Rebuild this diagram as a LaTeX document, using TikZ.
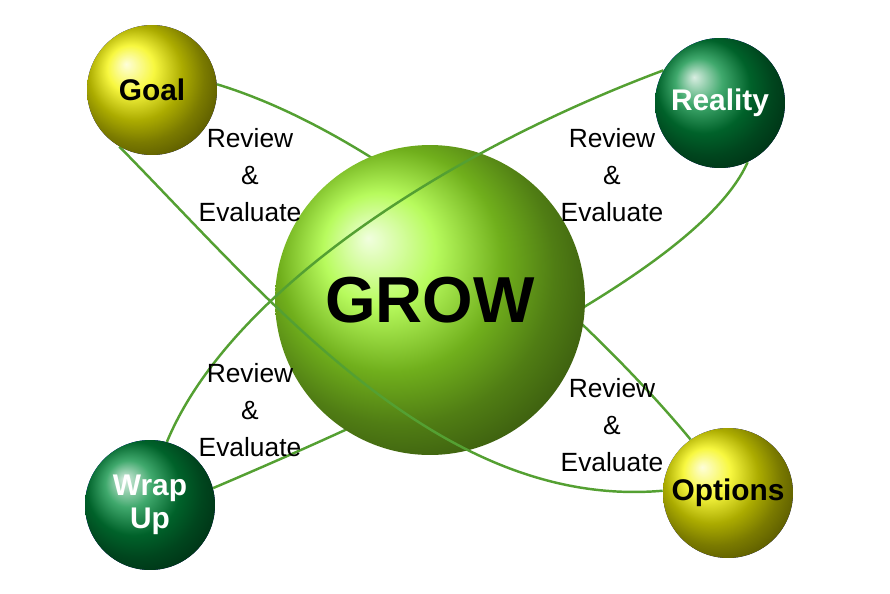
\documentclass[tikz,border=0pt]{standalone}
\usepackage{fontspec}
\setmainfont{Liberation Sans}
\tikzset{every picture/.style={font issue=\small},
         font issue/.style={execute at begin picture={#1\selectfont}}
        }
\tikzstyle{ball}=[circle,shading=ball,minimum size=#1,inner sep=0,align=center,font=\bfseries\fontsize{17}{19}\selectfont]
\tikzstyle{link}=[draw,line width=1.4pt,color={rgb,255:red,84;green,160;blue,50}]
\tikzstyle{rev}=[align=center,font=\fontsize{15}{21}\selectfont]
\begin{document}
\begin{tikzpicture}[x=0.02cm,y=-0.02cm]
	\useasboundingbox (0,0) rectangle (890,593);
	\node[ball=2.6cm] (go) at (152,90) {};
	\node[ball=2.6cm] (re) at (720,103) {};
	\node[ball=2.6cm] (wu) at (150,505) {};
	\node[ball=2.6cm] (op) at (728,493) {};
	
	% behind the big sphere
	\path[link] (go.5) .. controls (400,140) and (600,330) .. (op.125);
	\path[link] (re.-65) .. controls (700,270) and (420,400) .. (wu.15);
	
	\node[ball=6.2cm,ball color={rgb,255:red,160;green,250;blue,40},
	font=\bfseries\fontsize{37}{40}\selectfont] (gr) at (430,300) {GROW};
	
	% in front of it
	\path[link] (go.-120) .. controls (270,300) and (440,510) .. (op.178);
	\path[link] (re.150) .. controls (450,150) and (230,290) .. (wu.75);
	
	\node[ball=2.6cm,ball color={rgb,255:red,245;green,245;blue,0}] at (go) {Goal};
	\node[ball=2.6cm,ball color={rgb,255:red,0;green,140;blue,60},text=white] at (re) {Reality};
	\node[ball=2.6cm,ball color={rgb,255:red,0;green,140;blue,60},text=white] at (wu) {Wrap\\Up};
	\node[ball=2.6cm,ball color={rgb,255:red,245;green,245;blue,0}] at (op) {Options};
	
	\node[rev] (r1) at (250,175) {Review\\\&\\Evaluate};
	\node[rev] (r2) at (612,175) {Review\\\&\\Evaluate};
	\node[rev] (r3) at (250,410) {Review\\\&\\Evaluate};
	\node[rev] (r4) at (612,425) {Review\\\&\\Evaluate};
\end{tikzpicture}
\end{document}
